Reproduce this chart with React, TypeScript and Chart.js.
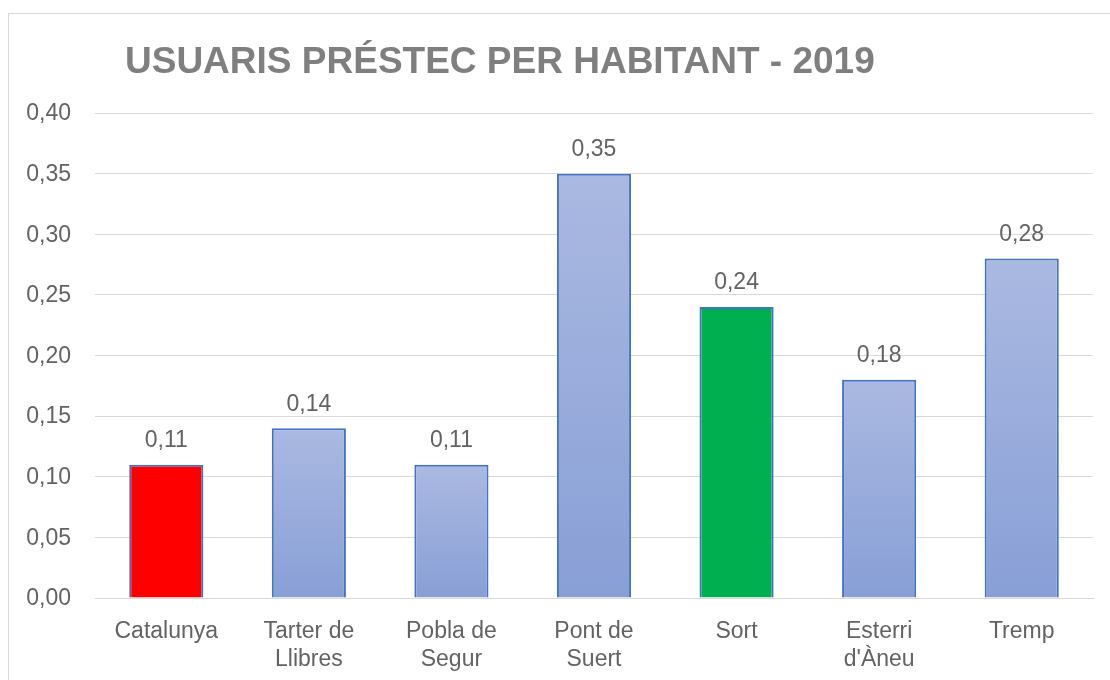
import React, { useEffect, useRef } from "react";
import { Chart, registerables } from "chart.js";

Chart.register(...registerables);

const TITLE = "USUARIS PRÉSTEC PER HABITANT - 2019";
const categories: (string | string[])[] = [
  "Catalunya",
  ["Tarter de", "Llibres"],
  ["Pobla de", "Segur"],
  ["Pont de", "Suert"],
  "Sort",
  ["Esterri", "d'Àneu"],
  "Tremp",
];
const values = [0.11, 0.14, 0.11, 0.35, 0.24, 0.18, 0.28];
const highlight: (string | null)[] = ["#FF0000", null, null, null, "#00B050", null, null];
const yMin = 0;
const yMax = 0.4;
const yStep = 0.05;

const FONT = "'Liberation Sans', Arial, sans-serif";
const TEXT = "#636363";
const fmt = (v: number) => v.toFixed(2).replace(".", ",");

export default function App() {
  const ref = useRef<HTMLCanvasElement | null>(null);
  useEffect(() => {
    if (!ref.current) return;
    const titlePlugin = {
      id: "customTitle",
      afterDraw(chart: any) {
        const ctx = chart.ctx;
        ctx.save();
        ctx.font = `bold 37px ${FONT}`;
        ctx.fillStyle = "#7F7F7F";
        ctx.textAlign = "left";
        ctx.textBaseline = "middle";
        ctx.fillText(TITLE, chart.chartArea.left + 30, 49);
        ctx.restore();
      },
    };
    const labelPlugin = {
      id: "valueLabels",
      afterDatasetsDraw(chart: any) {
        const ctx = chart.ctx;
        const meta = chart.getDatasetMeta(0);
        ctx.save();
        ctx.font = `23px ${FONT}`;
        ctx.fillStyle = TEXT;
        ctx.textAlign = "center";
        ctx.textBaseline = "middle";
        meta.data.forEach((bar: any, i: number) => {
          ctx.fillText(fmt(values[i]), bar.x, bar.y - 24);
        });
        ctx.restore();
      },
    };
    const chart = new Chart(ref.current, {
      type: "bar",
      data: {
        labels: categories,
        datasets: [
          {
            data: values,
            backgroundColor: (c: any) => {
              const i = c.dataIndex;
              if (highlight[i]) return highlight[i];
              const ch = c.chart;
              const y = ch.scales && ch.scales.y;
              if (!y || i === undefined) return "#9AACDC";
              const top = y.getPixelForValue(values[i]);
              const bottom = y.getPixelForValue(0);
              const g = ch.ctx.createLinearGradient(0, top, 0, bottom);
              g.addColorStop(0, "#AAB9E1");
              g.addColorStop(1, "#889FD6");
              return g;
            },
            borderColor: "#4472C4",
            borderWidth: 2,
            barPercentage: 0.52,
            categoryPercentage: 1,
          },
        ],
      },
      options: {
        animation: false,
        responsive: true,
        maintainAspectRatio: false,
        layout: { padding: { top: 99, right: 17, left: 0, bottom: 0 } },
        plugins: {
          legend: { display: false },
          title: { display: false },
          tooltip: { enabled: false },
        },
        scales: {
          x: {
            grid: { display: false, drawTicks: false },
            border: { display: true, color: "#D9D9D9", width: 1 },
            ticks: {
              font: { family: FONT, size: 23, lineHeight: 1.22 },
              color: TEXT,
              padding: 20,
              maxRotation: 0,
              autoSkip: false,
            },
            afterFit: (s: any) => {
              s.height = 82;
            },
          },
          y: {
            min: yMin,
            max: yMax,
            grid: { color: "#D9D9D9", lineWidth: 1, drawTicks: false },
            border: { display: false },
            ticks: {
              stepSize: yStep,
              font: { family: FONT, size: 23 },
              color: TEXT,
              padding: 24,
              labelOffset: 1,
              callback: (v: any) => fmt(Number(v)),
            },
            afterFit: (s: any) => {
              s.width = 86;
            },
          },
        },
      },
      plugins: [titlePlugin, labelPlugin],
    });
    return () => chart.destroy();
  }, []);
  return (
    <div
      style={{
        position: "fixed",
        left: 8,
        top: 13,
        width: 1102,
        height: 667,
        borderTop: "1px solid #D9D9D9",
        borderLeft: "1px solid #D9D9D9",
        boxSizing: "border-box",
        background: "#fff",
      }}
    >
      <canvas ref={ref} />
    </div>
  );
}
